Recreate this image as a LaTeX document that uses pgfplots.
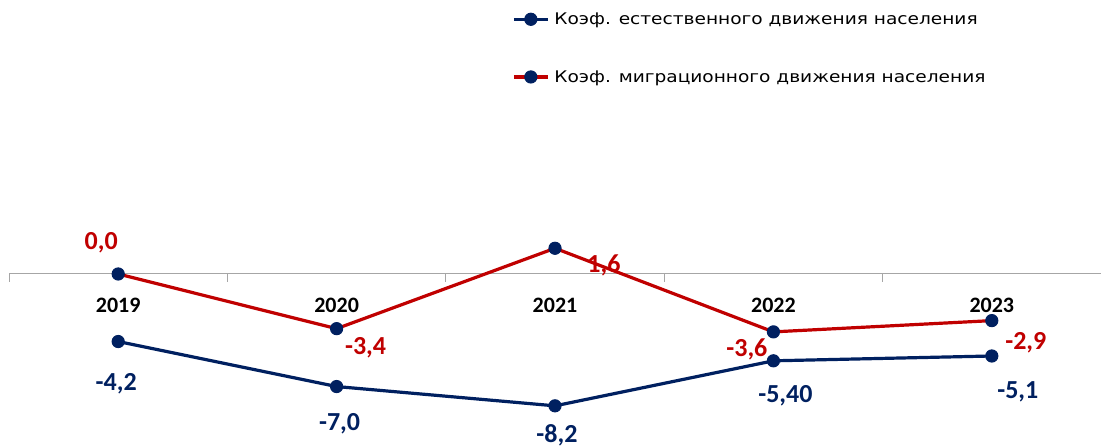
\documentclass[border=0pt]{standalone}
\usepackage{pgfplots}
\pgfplotsset{compat=1.18}
\usepackage{pgfplotstable}
\usepackage{fontspec}
\setmainfont{Carlito}
\newfontfamily\legfont[FakeStretch=1.16]{DejaVu Sans}
\definecolor{navy}{HTML}{002060}
\definecolor{dred}{HTML}{C00000}
\definecolor{axgray}{HTML}{A6A6A6}

\pgfplotstableread{
x y lab dx dy
0 -4.2 -4,2 -2 -42.5
1 -7.0 -7,0 3 -37
2 -8.2 -8,2 2 -29
3 -5.4 -5,40 12 -34.5
4 -5.1 -5,1 26 -35.5
}\natural

\pgfplotstableread{
x y lab dx dy
0 0.0 0,0 -17 31
1 -3.4 -3,4 29 -19
2 1.6 1,6 49 -17.5
3 -3.6 -3,6 -26.5 -17.5
4 -2.9 -2,9 34 -22
}\migr

\begin{document}
\begin{tikzpicture}
\begin{axis}[
  name=ax,
  scale only axis, width=1092pt, height=447pt,
  xmin=-0.5, xmax=4.5, ymin=-10.76, ymax=17.04,
  clip=false,
  axis line style={draw=none},
  ytick=\empty,
  xtick={0,...,4}, xticklabels={2019,2020,2021,2022,2023},
  major tick length=0pt,
  xticklabel style={font=\bfseries\fontsize{22}{22}\selectfont, text=black, anchor=center, yshift=142pt},
  legend style={draw=none, fill=none, at={(rel axis cs:0.4625,1)}, anchor=north west, xshift=-2pt, yshift=-10.5pt,
    inner sep=0pt, row sep=40.5pt, column sep=3pt, cells={anchor=west},
    font=\legfont\fontsize{16}{19}\selectfont},
  legend image code/.code={\draw[mark repeat=2,mark phase=2,#1] plot coordinates {(0pt,0pt) (17pt,0pt) (34pt,0pt)};},
  point meta=explicit symbolic,
  nodes near coords,
  visualization depends on={\thisrow{dx} \as \dx},
  visualization depends on={\thisrow{dy} \as \dy},
  nodes near coords style={anchor=center, inner sep=0pt, xshift=\dx pt, yshift=\dy pt,
    font=\bfseries\fontsize{26}{26}\selectfont},
]
\draw[axgray, line width=1pt] (axis cs:-0.5,0) -- (axis cs:4.5,0);
\pgfplotsinvokeforeach{-0.5,0.5,1.5,2.5,3.5,4.5}{\draw[axgray, line width=1pt] (axis cs:#1,0) -- ([yshift=-8pt]axis cs:#1,0);}
\addplot[navy, line width=3.2pt, mark=*, mark size=6.1pt,
  mark options={fill=navy, draw=navy, line width=1pt},
  nodes near coords style={text=navy}]
  table[x=x, y=y, meta=lab] {\natural};
\addlegendentry{Коэф. естественного движения населения}
\addplot[dred, line width=3.2pt, mark=*, mark size=6.1pt,
  mark options={fill=navy, draw=navy, line width=1pt},
  nodes near coords style={text=dred}]
  table[x=x, y=y, meta=lab] {\migr};
\addlegendentry{Коэф. миграционного движения населения}
\end{axis}
\pgfresetboundingbox
\useasboundingbox ([xshift=-9pt]ax.south west) rectangle (ax.north east);
\end{tikzpicture}
\end{document}
